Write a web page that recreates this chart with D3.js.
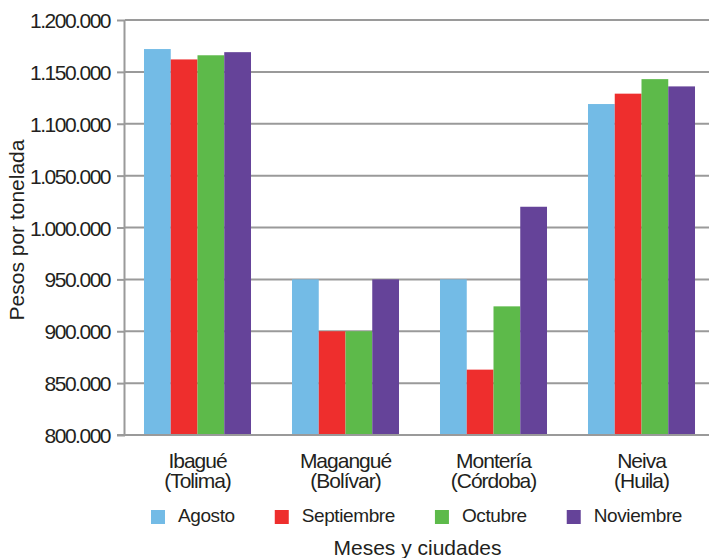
<!DOCTYPE html>
<html>
<head>
<meta charset="utf-8">
<script src="https://cdn.jsdelivr.net/npm/d3@7"></script>
<style>
  html, body { margin: 0; padding: 0; background: #fff; }
  svg { display: block; font-family: "Liberation Sans", Arial, Helvetica, sans-serif; }
</style>
</head>
<body>
<svg id="chart" width="709" height="558"></svg>
<script>
// ---- data ----
const cities = ["Ibagué", "Magangué", "Montería", "Neiva"];
const departments = ["(Tolima)", "(Bolívar)", "(Córdoba)", "(Huila)"];
const months = ["Agosto", "Septiembre", "Octubre", "Noviembre"];
const agosto     = [1172000, 950000, 950000, 1119000];
const septiembre = [1162000, 900000, 863000, 1129000];
const octubre    = [1166000, 900000, 924000, 1143000];
const noviembre  = [1169000, 950000, 1020000, 1136000];
const yTicks = [800000, 850000, 900000, 950000, 1000000, 1050000, 1100000, 1150000, 1200000];
const colors = ["#73bbe6", "#ee2e2d", "#5dba4a", "#654399"];

const seriesValues = [agosto, septiembre, octubre, noviembre];
const rows = cities.map((c, i) => ({
  city: c, dept: departments[i],
  values: months.map((m, j) => ({ month: m, value: seriesValues[j][i] }))
}));

const svg = d3.select("#chart");
const textColor = "#231f20";
const gridColor = "#9a9a9a";

const y = d3.scaleLinear().domain([800000, 1200000]).range([435, 20]);
const x0 = d3.scaleBand().domain(cities).range([123.5, 715.5]).paddingInner(0.277).paddingOuter(0.1385);
const x1 = d3.scaleBand().domain(months).range([0, x0.bandwidth()]).padding(0);
const color = d3.scaleOrdinal().domain(months).range(colors);

const fmt = v => d3.format(",")(v).replace(/,/g, ".");

// y axis ticks + labels
const yAxis = d3.axisLeft(y).tickValues(yTicks).tickFormat(fmt).tickSize(8).tickPadding(7);
const gy = svg.append("g").attr("transform", "translate(125,0)").call(yAxis);
gy.select(".domain").remove();
gy.selectAll(".tick line").attr("stroke", gridColor).attr("stroke-width", 2);
gy.selectAll(".tick text")
  .attr("fill", textColor)
  .style("font-size", "21px")
  .style("letter-spacing", "-1.5px")
  .attr("dy", "0.36em");

// gridlines
svg.append("g")
  .selectAll("line")
  .data(yTicks.filter(t => t !== 800000))
  .join("line")
  .attr("x1", 125).attr("x2", 709)
  .attr("y1", d => y(d)).attr("y2", d => y(d))
  .attr("stroke", gridColor).attr("stroke-width", 2);

// bars
const groups = svg.append("g")
  .selectAll("g")
  .data(rows)
  .join("g")
  .attr("transform", d => `translate(${x0(d.city)},0)`);

groups.selectAll("rect")
  .data(d => d.values)
  .join("rect")
  .attr("x", d => x1(d.month))
  .attr("width", x1.bandwidth())
  .attr("y", d => y(d.value))
  .attr("height", d => y(800000) - y(d.value))
  .attr("fill", d => color(d.month));

// axis lines
svg.append("line")
  .attr("x1", 124.5).attr("x2", 124.5).attr("y1", 20).attr("y2", 435)
  .attr("stroke", gridColor).attr("stroke-width", 2);
svg.append("line")
  .attr("x1", 117).attr("x2", 709).attr("y1", y(800000)).attr("y2", y(800000))
  .attr("stroke", gridColor).attr("stroke-width", 2);

// category labels (two lines)
const catG = svg.append("g")
  .selectAll("g")
  .data(rows)
  .join("g")
  .attr("transform", d => `translate(${x0(d.city) + x0.bandwidth() / 2},0)`);
catG.append("text")
  .attr("text-anchor", "middle").attr("y", 467.5)
  .attr("fill", textColor)
  .style("font-size", "21px").style("letter-spacing", "-1px")
  .text(d => d.city);
catG.append("text")
  .attr("text-anchor", "middle").attr("y", 488)
  .attr("fill", textColor)
  .style("font-size", "21px").style("letter-spacing", "-1px")
  .text(d => d.dept);

// legend
const legend = svg.append("g");
let lx = 151;
months.forEach((m, i) => {
  legend.append("rect")
    .attr("x", lx).attr("y", 510).attr("width", 14).attr("height", 14)
    .attr("fill", color(m));
  const t = legend.append("text")
    .attr("x", lx + 27).attr("y", 522)
    .attr("fill", textColor)
    .style("font-size", "19px")
    .style("letter-spacing", "-0.4px")
    .text(m);
  const w = t.node().getComputedTextLength();
  lx = lx + 27 + w + 40;
});

// axis titles
svg.append("text")
  .attr("x", 417.5).attr("y", 555)
  .attr("text-anchor", "middle")
  .attr("fill", textColor)
  .style("font-size", "21px")
  .text("Meses y ciudades");

svg.append("text")
  .attr("transform", "translate(24,230) rotate(-90)")
  .attr("text-anchor", "middle")
  .attr("fill", textColor)
  .style("font-size", "21px")
  .text("Pesos por tonelada");
</script>
</body>
</html>
